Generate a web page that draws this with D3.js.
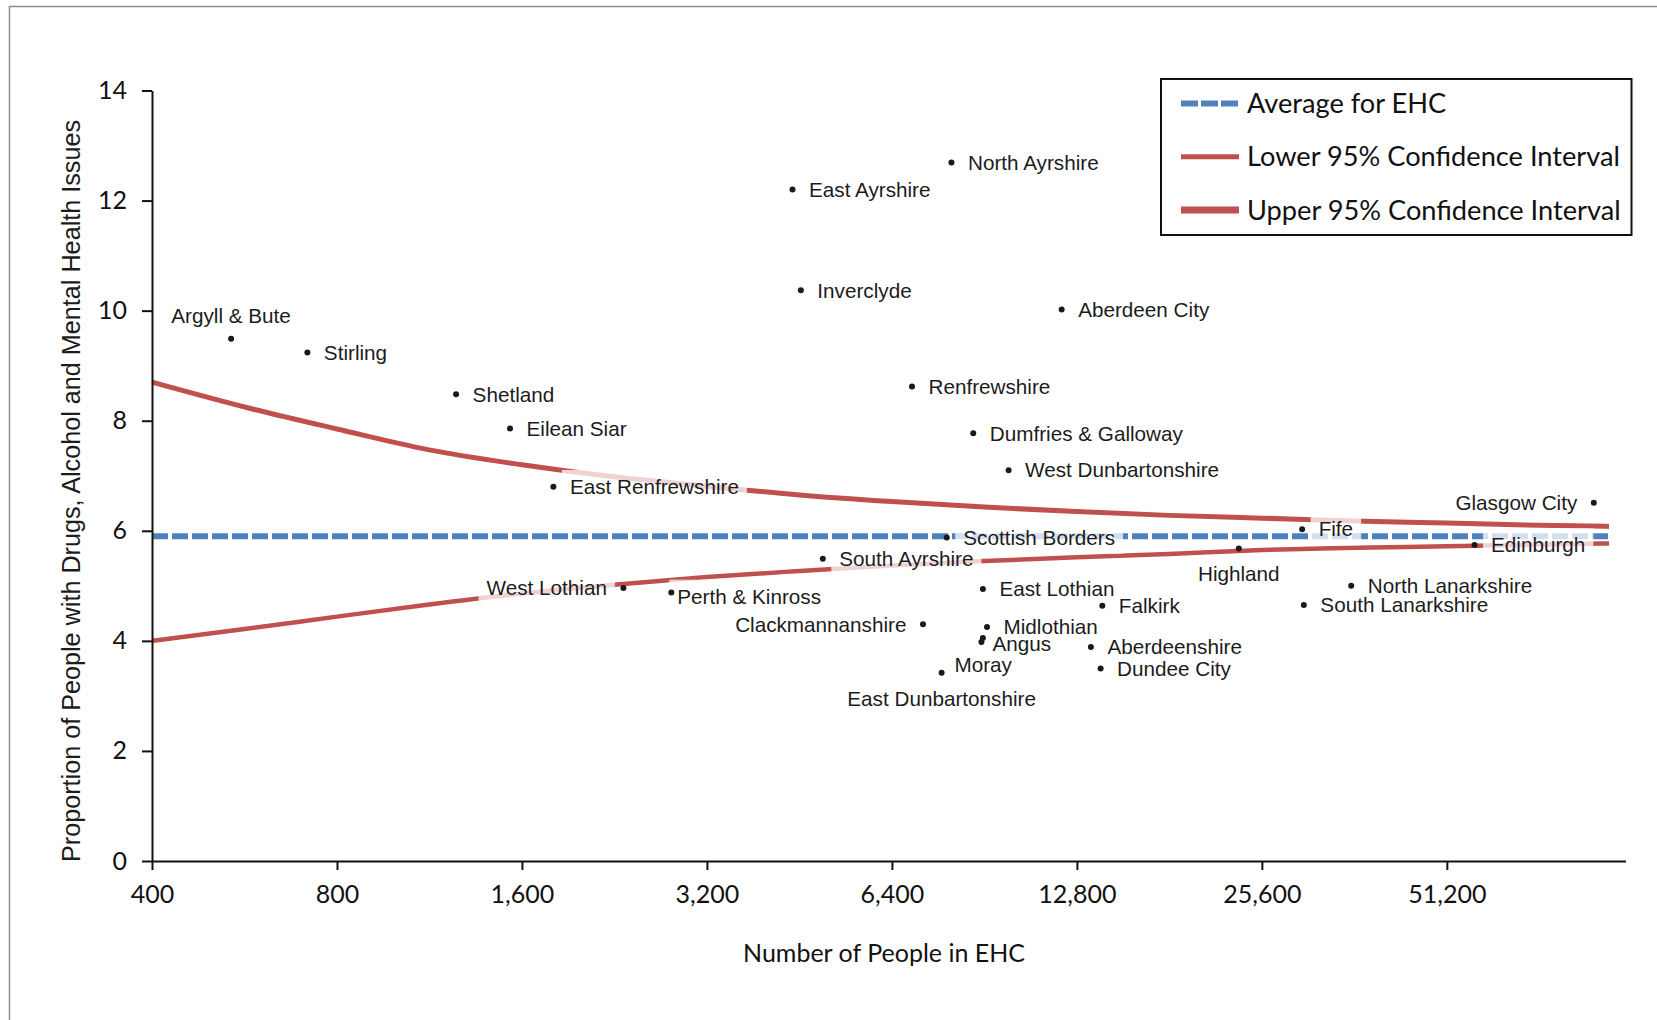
<!DOCTYPE html>
<html lang="en">
<head>
  <meta charset="UTF-8">
  <title>EHC funnel plot</title>
  <script src="https://d3js.org/d3.v7.min.js"></script>
  <style>
    body {
      margin: 0;
      background: #fff;
    }

    svg {
      display: block;
    }

    .tick text {
      font-family: Lato, sans-serif;
      font-size: 25px;
      fill: #111;
    }

    .label {
      font-family: "Liberation Sans", Arial, sans-serif;
      font-size: 20.7px;
      fill: #1c1c1c;
    }
  </style>
</head>
<body>

  <svg width="1657" height="1020"></svg>

  <script>
    // council areas
    const areas = [
      `Argyll & Bute`, `Stirling`, `Shetland`, `Eilean Siar`, `East Renfrewshire`,
      `West Lothian`, `Perth & Kinross`, `South Ayrshire`, `East Ayrshire`, `Inverclyde`,
      `North Ayrshire`, `Renfrewshire`, `Dumfries & Galloway`, `West Dunbartonshire`, `Aberdeen City`,
      `Scottish Borders`, `East Lothian`, `Clackmannanshire`, `Midlothian`, `Angus`,
      `Moray`, `East Dunbartonshire`, `Falkirk`, `Aberdeenshire`, `Dundee City`,
      `Highland`, `Fife`, `South Lanarkshire`, `North Lanarkshire`, `Edinburgh`,
      `Glasgow City`
    ];
    const people = [
      538, 716, 1250, 1530, 1800,
      2340, 2800, 4940, 4410, 4550,
      8000, 6900, 8680, 9910, 12090,
      7860, 9000, 7190, 9140, 9000,
      8950, 7710, 14080, 13490, 13990,
      23480, 29770, 29960, 35780, 56800,
      88800
    ];
    const percent = [
      9.49, 9.24, 8.48, 7.86, 6.80,
      4.96, 4.88, 5.49, 12.20, 10.37,
      12.69, 8.62, 7.77, 7.10, 10.02,
      5.88, 4.94, 4.30, 4.25, 4.05,
      3.98, 3.42, 4.64, 3.89, 3.50,
      5.68, 6.03, 4.65, 5.00, 5.74,
      6.51
    ];

    // confidence interval lines
    const ciPeople = [400, 570, 800, 1130, 1600, 2260, 3200, 4530, 6400, 9050, 12800, 18100, 25600, 36200, 51200, 72400, 94000];
    const upperCI = [8.70, 8.24, 7.85, 7.47, 7.20, 6.98, 6.81, 6.65, 6.53, 6.43, 6.35, 6.28, 6.23, 6.18, 6.14, 6.10, 6.08];
    const lowerCI = [4.00, 4.22, 4.44, 4.66, 4.86, 5.02, 5.16, 5.27, 5.37, 5.45, 5.52, 5.58, 5.65, 5.69, 5.72, 5.75, 5.77];
    const averagePeople = [400, 94000];
    const averageEHC = [5.9, 5.9];

    const xTicks = [400, 800, 1600, 3200, 6400, 12800, 25600, 51200];
    const yTicks = [0, 2, 4, 6, 8, 10, 12, 14];
    const legendLabels = [`Average for EHC`, `Lower 95% Confidence Interval`, `Upper 95% Confidence Interval`];

    // where a label sits if not to the right of its dot
    const labelPlace = {
      [`Argyll & Bute`]: {anchor: `middle`, dx: 0, dy: -23},
      [`West Lothian`]: {anchor: `end`, dx: -16.5, dy: 0},
      [`Clackmannanshire`]: {anchor: `end`, dx: -16.5, dy: 0},
      [`Glasgow City`]: {anchor: `end`, dx: -16.5, dy: 0},
      [`Highland`]: {anchor: `middle`, dx: 0, dy: 25},
      [`East Dunbartonshire`]: {anchor: `middle`, dx: 0, dy: 25.5},
      [`Perth & Kinross`]: {anchor: `start`, dx: 6, dy: 4},
      [`Angus`]: {anchor: `start`, dx: 9.5, dy: 6},
      [`Moray`]: {anchor: `start`, dx: -27, dy: 23},
    };
    const defaultPlace = {anchor: `start`, dx: 16.5, dy: 0};

    const red = `#C0504D`;
    const blue = `#4F81BD`;

    const points = areas.map((name, i) => ({name, n: people[i], p: percent[i]}));

    const x = d3.scaleLog().base(2)
      .domain([400, 100000])
      .range([152, 1625.5]);

    const y = d3.scaleLinear()
      .domain([0, 14])
      .range([861, 90.5]);

    const svg = d3.select(`svg`);

    // outer frame (only top and left edges are visible)
    svg.append(`path`)
      .attr(`d`, `M9.5,1020V6.5H1657`)
      .attr(`fill`, `none`)
      .attr(`stroke`, `#8f8f8f`)
      .attr(`stroke-width`, 1.5);

    const line = d3.line()
      .x(d => x(d[0]))
      .y(d => y(d[1]))
      .curve(d3.curveMonotoneX);

    svg.append(`path`)
      .attr(`d`, line(d3.zip(averagePeople, averageEHC)))
      .attr(`fill`, `none`)
      .attr(`stroke`, blue)
      .attr(`stroke-width`, 6)
      .attr(`stroke-dasharray`, `16,4`);

    svg.append(`path`)
      .attr(`d`, line(d3.zip(ciPeople, lowerCI)))
      .attr(`fill`, `none`)
      .attr(`stroke`, red)
      .attr(`stroke-width`, 4.5);

    svg.append(`path`)
      .attr(`d`, line(d3.zip(ciPeople, upperCI)))
      .attr(`fill`, `none`)
      .attr(`stroke`, red)
      .attr(`stroke-width`, 5);

    // axes
    const xAxis = d3.axisBottom(x)
      .tickValues(xTicks)
      .tickFormat(d3.format(`,`))
      .tickSize(9)
      .tickPadding(15)
      .tickSizeOuter(0);

    const yAxis = d3.axisLeft(y)
      .tickValues(yTicks)
      .tickSize(10)
      .tickPadding(15)
      .tickSizeOuter(0);

    const gx = svg.append(`g`)
      .attr(`transform`, `translate(0, ${y(0)})`)
      .call(xAxis);

    const gy = svg.append(`g`)
      .attr(`transform`, `translate(${x(400)}, 0)`)
      .call(yAxis);

    [gx, gy].forEach(g => {
      g.select(`.domain`).attr(`stroke`, `#111`).attr(`stroke-width`, 2);
      g.selectAll(`.tick line`).attr(`stroke`, `#111`).attr(`stroke-width`, 2);
    });

    // label backgrounds, dots, labels
    const boxLayer = svg.append(`g`);
    const dotLayer = svg.append(`g`);
    const textLayer = svg.append(`g`);

    dotLayer.selectAll(`circle`)
      .data(points)
      .join(`circle`)
      .attr(`cx`, d => x(d.n))
      .attr(`cy`, d => y(d.p))
      .attr(`r`, 3)
      .attr(`fill`, `#1a1a1a`);

    const labels = textLayer.selectAll(`text`)
      .data(points)
      .join(`text`)
      .attr(`class`, `label`)
      .attr(`x`, d => x(d.n) + (labelPlace[d.name] || defaultPlace).dx)
      .attr(`y`, d => y(d.p) + (labelPlace[d.name] || defaultPlace).dy)
      .attr(`dy`, `0.35em`)
      .attr(`text-anchor`, d => (labelPlace[d.name] || defaultPlace).anchor)
      .text(d => d.name);

    labels.each(function() {
      const b = this.getBBox();
      boxLayer.append(`rect`)
        .attr(`x`, b.x - 8)
        .attr(`y`, b.y - 5)
        .attr(`width`, b.width + 16)
        .attr(`height`, b.height + 10)
        .attr(`fill`, `#fff`)
        .attr(`fill-opacity`, 0.75);
    });

    // axis titles
    svg.append(`text`)
      .attr(`x`, 884)
      .attr(`y`, 953)
      .attr(`dy`, `0.35em`)
      .attr(`text-anchor`, `middle`)
      .style(`font-family`, `Lato, sans-serif`)
      .style(`font-size`, `25px`)
      .style(`fill`, `#111`)
      .text(`Number of People in EHC`);

    svg.append(`text`)
      .attr(`transform`, `translate(80, 491) rotate(-90)`)
      .attr(`text-anchor`, `middle`)
      .style(`font-family`, `"Liberation Sans", Arial, sans-serif`)
      .style(`font-size`, `25.2px`)
      .style(`fill`, `#1c1c1c`)
      .text(`Proportion of People with Drugs, Alcohol and Mental Health Issues`);

    // legend
    const legend = svg.append(`g`);

    legend.append(`rect`)
      .attr(`x`, 1161)
      .attr(`y`, 79)
      .attr(`width`, 470.5)
      .attr(`height`, 156)
      .attr(`fill`, `#fff`)
      .attr(`stroke`, `#111`)
      .attr(`stroke-width`, 2);

    const legendRows = [
      {stroke: blue, width: 6, dash: `17,3`},
      {stroke: red, width: 5, dash: null},
      {stroke: red, width: 7, dash: null},
    ];

    legendLabels.forEach((label, i) => {
      const rowY = 103.5 + i * 53.3;
      legend.append(`line`)
        .attr(`x1`, 1181)
        .attr(`x2`, 1239)
        .attr(`y1`, rowY)
        .attr(`y2`, rowY)
        .attr(`stroke`, legendRows[i].stroke)
        .attr(`stroke-width`, legendRows[i].width)
        .attr(`stroke-dasharray`, legendRows[i].dash);

      legend.append(`text`)
        .attr(`x`, 1247)
        .attr(`y`, rowY)
        .attr(`dy`, `0.35em`)
        .style(`font-family`, `Lato, sans-serif`)
        .style(`font-size`, `27.2px`)
        .style(`fill`, `#111`)
        .text(label);
    });
  </script>
</body>
</html>
